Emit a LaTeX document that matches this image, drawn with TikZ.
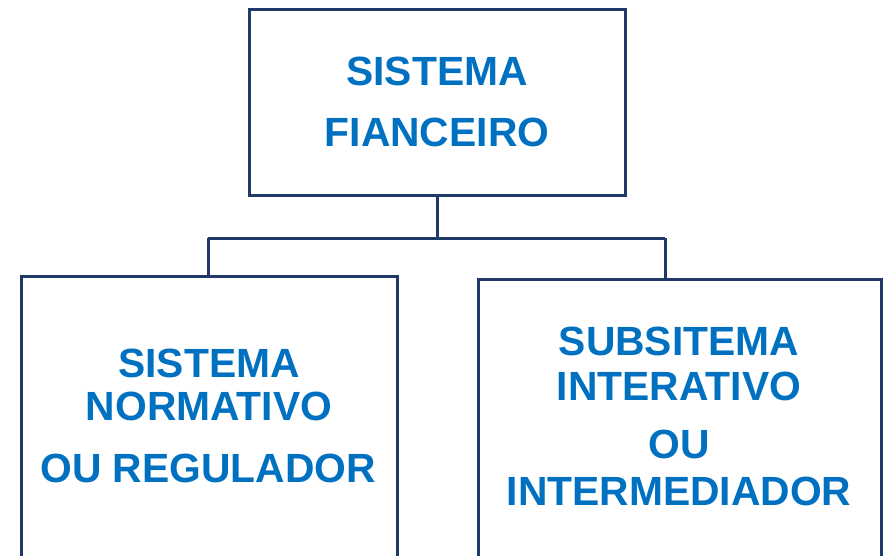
\documentclass[tikz,border=0pt]{standalone}
\usepackage{fontspec}
\setmainfont{Liberation Sans}
\definecolor{txtblue}{HTML}{0070C0}
\definecolor{navy}{HTML}{1F3A68}
\begin{document}
\begin{tikzpicture}[x=1pt,y=-1pt,
  box/.style={draw=navy,line width=3pt,fill=white},
  conn/.style={draw=navy,line width=3pt},
  lbl/.style={text=txtblue,font=\fontsize{40.8}{44}\selectfont\bfseries,anchor=base,inner sep=0pt}]
\useasboundingbox (0,0) rectangle (884,555);
\begin{scope}
\clip (0,0) rectangle (884,555);
% boxes
\draw[box] (249.5,9) rectangle (625,195.5);
\draw[box] (21,276.5) rectangle (397,557);
\draw[box] (478,279) rectangle (881.5,557);
\end{scope}
\coordinate (topB) at (437,195.5);
\coordinate (mid) at (437,238);
\coordinate (lj) at (208,238);
\coordinate (rj) at (665,238);
\coordinate (lT) at (208,276.5);
\coordinate (rT) at (665,279);
\draw[conn] (topB) -- (mid);
\draw[conn] (lj) -- (rj);
\draw[conn] (lj) -- (lT);
\draw[conn] (rj) -- (rT);
% labels
\node[lbl] (t1) at (437,85) {SISTEMA};
\node[lbl] (t2) at (437,146) {FIANCEIRO};
\node[lbl] (l1) at (209,377) {SISTEMA};
\node[lbl] (l2) at (209,420) {NORMATIVO};
\node[lbl] (l3) at (208,482) {OU REGULADOR};
\node[lbl] (r1) at (679,355) {SUBSITEMA};
\node[lbl] (r2) at (679,400) {INTERATIVO};
\node[lbl] (r3) at (679,458) {OU};
\node[lbl] (r4) at (679,505) {INTERMEDIADOR};
\end{tikzpicture}
\end{document}
